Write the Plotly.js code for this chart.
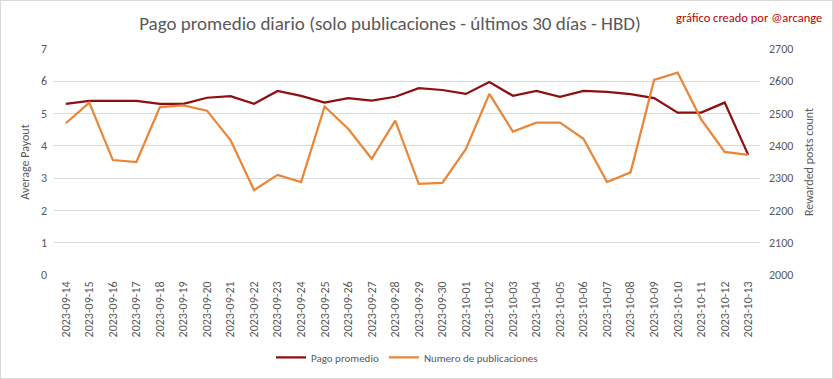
<!DOCTYPE html>
<html><head><meta charset="utf-8">
<script src="https://cdn.plot.ly/plotly-3.0.1.min.js"></script>
<style>html,body{margin:0;padding:0;background:#fff}#chart{width:831px;height:377px;border:1px solid #d9d9d9}</style>
</head><body><div id="chart"></div>
<script>
const dates = ["2023-09-14","2023-09-15","2023-09-16","2023-09-17","2023-09-18","2023-09-19","2023-09-20","2023-09-21","2023-09-22","2023-09-23","2023-09-24","2023-09-25","2023-09-26","2023-09-27","2023-09-28","2023-09-29","2023-09-30","2023-10-01","2023-10-02","2023-10-03","2023-10-04","2023-10-05","2023-10-06","2023-10-07","2023-10-08","2023-10-09","2023-10-10","2023-10-11","2023-10-12","2023-10-13"];
const pagoPromedio = [5.30,5.39,5.39,5.39,5.30,5.30,5.49,5.54,5.30,5.70,5.55,5.34,5.48,5.40,5.52,5.79,5.73,5.61,5.98,5.55,5.70,5.52,5.70,5.67,5.60,5.48,5.03,5.03,5.34,3.72];
const numeroPublicaciones = [2470,2534,2356,2350,2520,2525,2509,2418,2263,2310,2288,2522,2453,2360,2478,2282,2285,2390,2561,2444,2472,2472,2422,2288,2318,2604,2627,2482,2381,2372];

const FONT = "Carlito, 'Liberation Sans Narrow', 'Open Sans', sans-serif";
const traces = [
  {x: dates, y: pagoPromedio, type: 'scatter', mode: 'lines', name: 'Pago promedio',
   line: {color: '#8E0F0F', width: 2.25}, yaxis: 'y'},
  {x: dates, y: numeroPublicaciones, type: 'scatter', mode: 'lines', name: 'Numero de publicaciones',
   line: {color: '#EA8638', width: 2.25}, yaxis: 'y2'}
];
const layout = {
  width: 831, height: 377,
  margin: {l: 53, r: 72, t: 48, b: 103, autoexpand: false},
  paper_bgcolor: '#fff', plot_bgcolor: '#fff',
  font: {family: FONT, color: '#595959', size: 12},
  title: {text: 'Pago promedio diario (solo publicaciones - últimos 30 días - HBD)',
    font: {family: FONT, size: 19, color: '#595959'}, x: 0.468, xanchor: 'center',
    yref: 'container', y: 0.942, yanchor: 'middle'},
  showlegend: true,
  legend: {orientation: 'h', x: 0.5, xanchor: 'center', yref: 'container', y: 0.055, yanchor: 'middle',
    font: {family: FONT, size: 11, color: '#595959'}},
  xaxis: {type: 'category', range: [-0.5, 29.5], tickangle: -90, showgrid: false, zeroline: false,
    automargin: false, showline: false, ticks: '', ticklabelstandoff: 3,
    tickfont: {family: FONT, size: 12, color: '#595959'}},
  yaxis: {range: [0, 7], dtick: 1, gridcolor: '#d9d9d9', gridwidth: 1, zeroline: false, showline: false,
    automargin: false, ticks: '', ticklabelstandoff: 6, tickfont: {family: FONT, size: 12, color: '#595959'},
    title: {text: 'Average Payout', font: {family: FONT, size: 12, color: '#595959'}, standoff: 8}},
  yaxis2: {range: [2000, 2700], dtick: 100, overlaying: 'y', side: 'right', showgrid: false, zeroline: false,
    automargin: false, showline: false, ticks: '', ticklabelstandoff: 8, tickfont: {family: FONT, size: 12, color: '#595959'},
    title: {text: 'Rewarded posts count', font: {family: FONT, size: 12, color: '#595959'}, standoff: 12}},
  annotations: [{text: 'gráfico creado por @arcange', xref: 'paper', yref: 'paper', x: 1.09, y: 1.14,
    xanchor: 'right', yanchor: 'middle', showarrow: false, font: {family: FONT, size: 12.5, color: '#C00000'}}]
};
Plotly.newPlot('chart', traces, layout, {displayModeBar: false, staticPlot: true});
</script></body></html>
